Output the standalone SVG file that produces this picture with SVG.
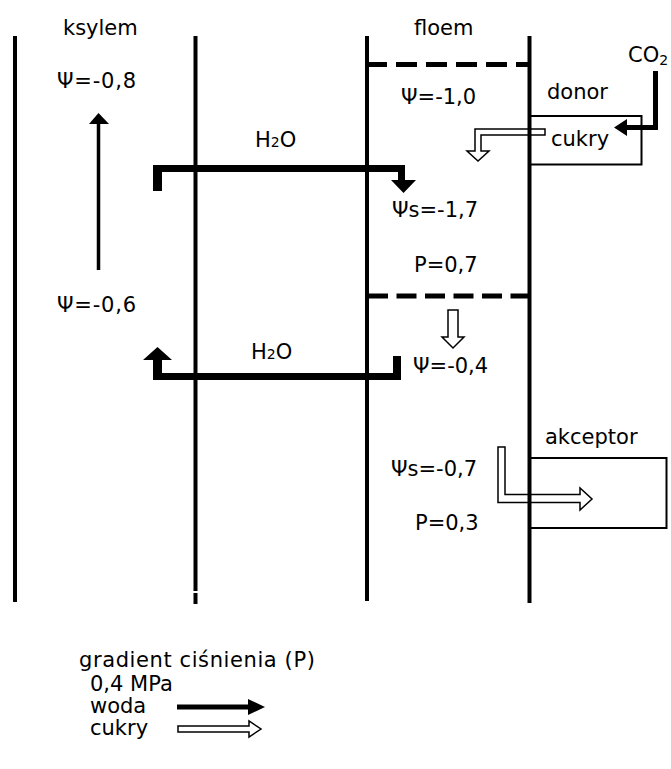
<svg xmlns="http://www.w3.org/2000/svg" width="671" height="769" viewBox="0 0 671 769">
<style>
text{font-family:"DejaVu Sans","Liberation Sans",sans-serif;font-size:21px;fill:#000}
.sub{font-size:14px}
.wall{stroke:#000;stroke-width:4;fill:none}
.dash{stroke:#000;stroke-width:5;fill:none}
.box{stroke:#000;stroke-width:2;fill:#fff}
.hollow{fill:#fff;stroke:#000;stroke-width:1.5;stroke-linejoin:miter}
.solid{fill:#000;stroke:none}
</style>
<rect width="671" height="769" fill="#fff"/>

<g id="donor-box"><rect class="box" x="529.5" y="116" width="112" height="48.5"/><text x="551" y="146">cukry</text></g>
<g id="akceptor-box"><rect class="box" x="529" y="458" width="137.5" height="70"/></g>

<g id="connectors">
  <polygon class="hollow" points="545,129 475,129 475,151 467,151 478,161 489,151 481,151 481,135 545,135"/>
  <polygon class="hollow" points="448,310 458,310 458,337 464,337 453,348 442,337 448,337"/>
  <polygon class="hollow" points="498,447 505,447 505,494.5 580,494.5 580,488 592,499 580,510 580,502.5 498,502.5"/>
  <polygon class="solid" points="153,191 153,165 405,165 405,180 416,180 403.5,193 391,180 398,180 398,172 162,172 162,191"/>
  <polygon class="solid" points="401,356 401,380 153,380 153,360 143,360 157.5,347 172,360 162,360 162,373 393,373 393,356"/>
  <line x1="98.5" y1="270" x2="98.5" y2="122" stroke="#000" stroke-width="3.5"/>
  <polygon class="solid" points="89,124 109,124 98.5,113"/>
  <polyline points="655.5,71 655.5,127.5 625,127.5" fill="none" stroke="#000" stroke-width="5"/>
  <polygon class="solid" points="627,119 627,136 614,127.5"/>
</g>

<g id="walls">
  <line class="wall" x1="15" y1="36" x2="15" y2="602"/>
  <line class="wall" x1="195.5" y1="36" x2="195.5" y2="591"/>
  <line class="wall" x1="195.5" y1="593" x2="195.5" y2="604"/>
  <line class="wall" x1="367" y1="36" x2="367" y2="601"/>
  <line class="wall" x1="529.5" y1="36" x2="529.5" y2="603"/>
  <line class="dash" x1="366" y1="64.5" x2="529" y2="64.5" stroke-dasharray="21 9"/>
  <line class="dash" x1="368" y1="296" x2="529" y2="296" stroke-dasharray="20 8.5"/>
</g>

<g id="labels">
  <text x="63" y="35">ksylem</text>
  <text x="414" y="35">floem</text>
  <text x="628" y="62">CO<tspan class="sub" dy="3">2</tspan></text>
  <text x="57" y="88" letter-spacing="0.8">Ψ=-0,8</text>
  <text x="547" y="99">donor</text>
  <text x="401" y="104">Ψ=-1,0</text>
  <text x="255" y="147">H<tspan class="sub">2</tspan>O</text>
  <text x="392" y="217">Ψs=-1,7</text>
  <text x="414" y="272">P=0,7</text>
  <text x="57" y="312" letter-spacing="0.8">Ψ=-0,6</text>
  <text x="251" y="359">H<tspan class="sub">2</tspan>O</text>
  <text x="413" y="373">Ψ=-0,4</text>
  <text x="545" y="444">akceptor</text>
  <text x="391" y="476">Ψs=-0,7</text>
  <text x="415" y="530">P=0,3</text>
</g>

<g id="legend">
  <text x="79" y="667" letter-spacing="0.6">gradient ciśnienia (P)</text>
  <text x="90" y="691">0,4 MPa</text>
  <text x="90" y="713">woda</text>
  <line x1="177" y1="707" x2="250" y2="707" stroke="#000" stroke-width="5"/>
  <polygon class="solid" points="248,699 265,707 248,715"/>
  <text x="90" y="735">cukry</text>
  <polygon class="hollow" points="178,726 249,726 249,721 261,729 249,737 249,732 178,732"/>
</g>
</svg>
